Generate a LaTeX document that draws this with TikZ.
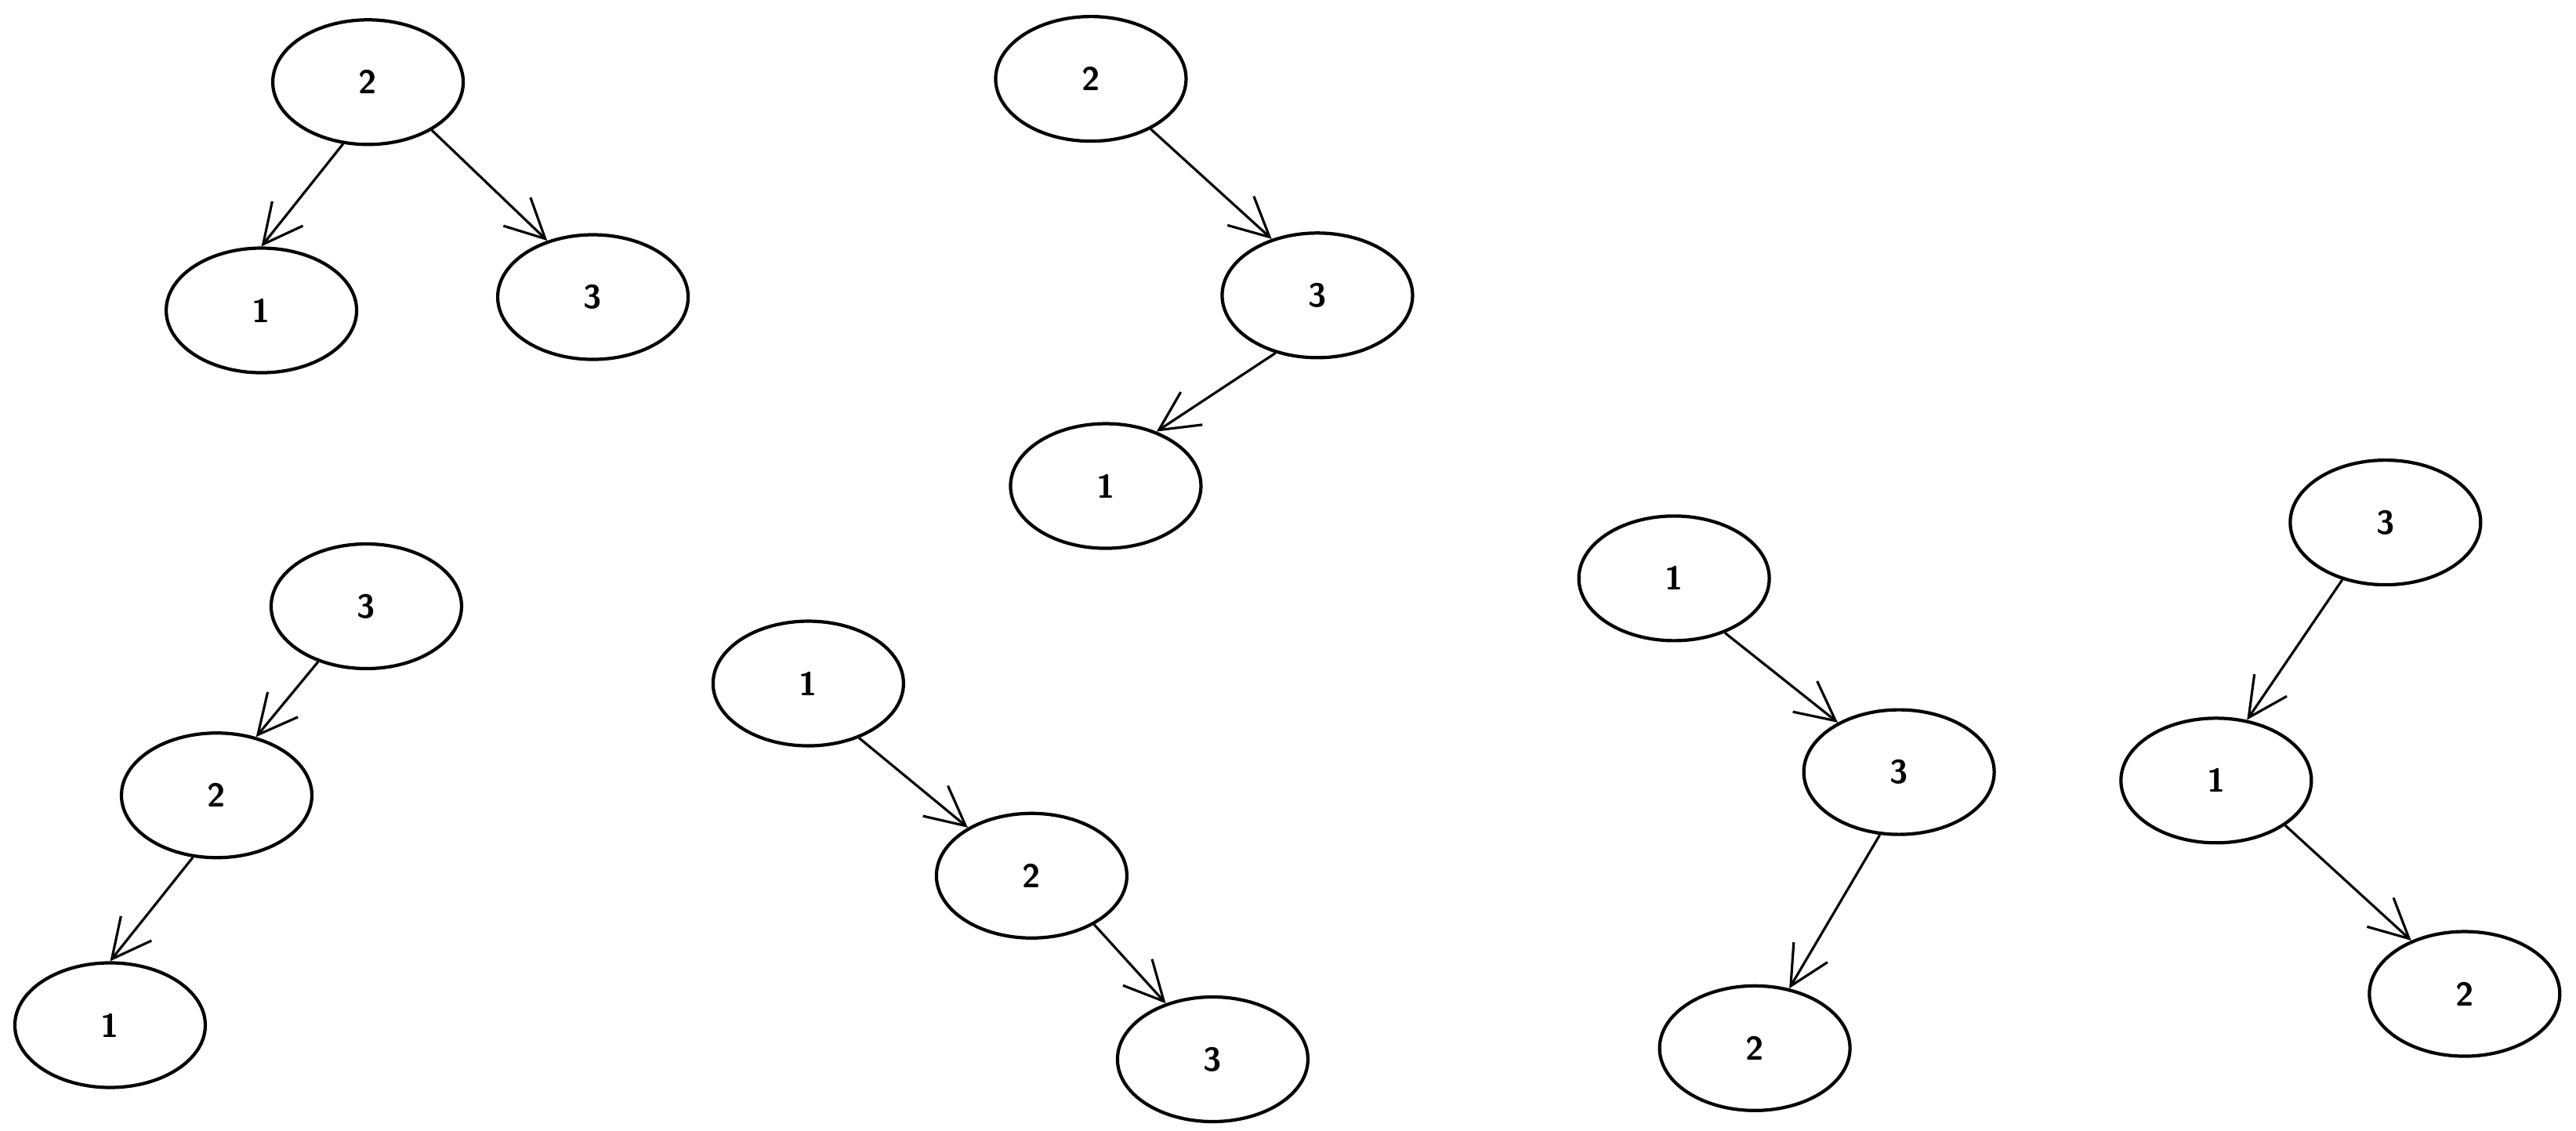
\documentclass[tikz,border=0pt]{standalone}
\usepackage{tikz}
\usetikzlibrary{arrows.meta,positioning,shapes.geometric}

\begin{document}
\begin{tikzpicture}[
  x=0.20963mm, y=-0.20963mm,
  font=\large\sffamily\bfseries,
  key/.style={draw, ellipse, line width=1.2pt, minimum width=24.3mm, minimum height=15.9mm, inner sep=0pt},
  >={Straight Barb[length=5mm, width=5mm]},
  every edge/.style={draw, ->, line width=0.9pt},
]
\useasboundingbox (0,0) rectangle (1568,688);

% 2 -> 1, 3
\node[key] (a2) at (224,50) {2};
\node[key, below=12.8mm of a2, xshift=-13.6mm] (a1) {1};
\node[key, below=11.1mm of a2, xshift=28.7mm] (a3) {3};
\draw (a2.248) edge (a1.north);
\draw (a2.323) edge (a3.129);

% 2 -> 3 -> 1
\node[key] (b2) at (664,48) {2};
\node[key, below=11.3mm of b2, xshift=28.9mm] (b3) {3};
\node[key, below=8.0mm of b3, xshift=-27.0mm] (b1) {1};
\draw (b2.320) edge (b3.129);
\draw (b3.234) edge (b1.47);

% 3 -> 2 -> 1
\node[key] (c3) at (223,369) {3};
\node[key, below=7.8mm of c3, xshift=-19.1mm] (c2) {2};
\node[key, below=13.0mm of c2, xshift=-13.6mm] (c1) {1};
\draw (c3.229) edge (c2.56);
\draw (c2.249) edge (c1.north);

% 1 -> 2 -> 3
\node[key] (d1) at (492,416) {1};
\node[key, below=8.2mm of d1, xshift=28.5mm] (d2) {2};
\node[key, below=7.1mm of d2, xshift=23.1mm] (d3) {3};
\draw (d1.313) edge (d2.143);
\draw (d2.322) edge (d3.130);

% 1 -> 3 -> 2
\node[key] (e1) at (1019,352) {1};
\node[key, below=8.4mm of e1, xshift=28.7mm] (e3) {3};
\node[key, below=18.9mm of e3, xshift=-18.4mm] (e2) {2};
\draw (e1.313) edge (e3.141);
\draw (e3.253) edge (e2.60);

% 3 -> 1 -> 2
\node[key] (f3) at (1452,318) {3};
\node[key, below=16.6mm of f3, xshift=-21.6mm] (f1) {1};
\node[key, below=10.9mm of f1, xshift=31.7mm] (f2) {2};
\draw (f3.233) edge (f1.63);
\draw (f1.327) edge (f2.135);
\end{tikzpicture}
\end{document}
